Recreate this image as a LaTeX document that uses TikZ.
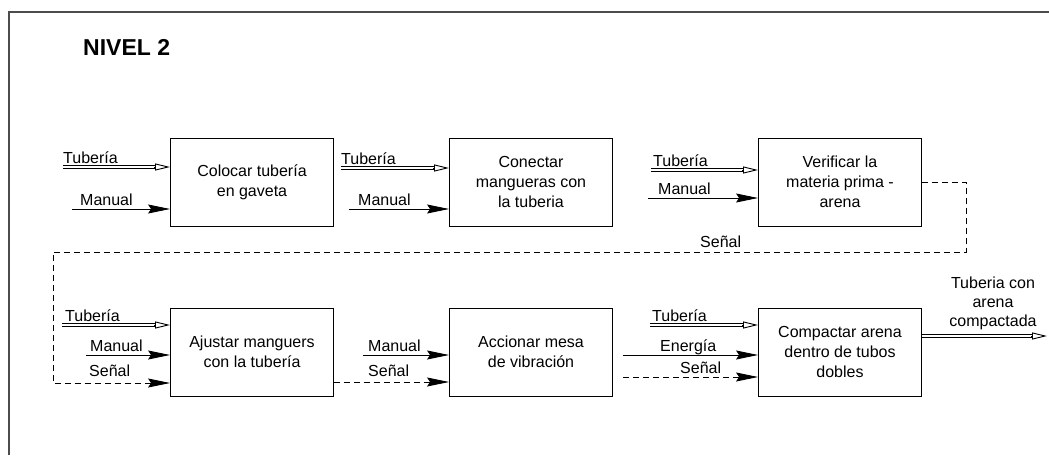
\documentclass[tikz,border=0pt]{standalone}
\usepackage{fontspec}
\setmainfont{Liberation Sans}
\usepackage{tikz}
\usetikzlibrary{arrows.meta}
\newcommand{\boxWidth}[0]{163pt}
\newcommand{\boxHeight}[0]{88pt}
\newcommand{\textSize}[0]{\fontsize{16}{20}\selectfont}

\begin{document}
\begin{tikzpicture}[x=1pt, y=-1pt]
  \tikzset{proc/.style={draw, line width=0.9pt, minimum width=\boxWidth, minimum height=\boxHeight, align=center, font=\textSize, inner sep=2pt},
    tub/.style={line width=4pt, shorten >=14pt, postaction={draw=white, line width=1.8pt, shorten >=14pt}},
    tubtip/.style={line width=0.9pt, -{Triangle[open, length=15pt, width=7pt]}},
    man/.style={line width=0.9pt, -{Stealth[length=22pt, width=9pt, inset=3pt]}},
    sig/.style={man, dash pattern=on 6pt off 4pt},
    lbl/.style={anchor=base west, font=\textSize, inner sep=0pt}}
  \useasboundingbox (0,0) rectangle (1049,455);
  \draw[line width=1.5pt, black!70] (9,455) -- (9,12) -- (1049,12);
  \node (title) [anchor=base west, inner sep=0pt, font=\fontsize{23}{26}\selectfont\bfseries] at (83,55) {NIVEL 2};

  % first row
  \node (b1) [proc] at (252,182) {Colocar tubería\\en gaveta};
  \node (b2) [proc] at (531,182) {Conectar\\mangueras con\\la tuberia};
  \node (b3) [proc] at (840,182) {Verificar la\\materia prima -\\arena};
  % second row
  \node (b4) [proc] at (252,352) {Ajustar manguers\\con la tubería};
  \node (b5) [proc] at (531,352) {Accionar mesa\\de vibración};
  \node (b6) [proc] at (840,352) {Compactar arena\\dentro de tubos\\dobles};

  % inputs b1
  \coordinate (t1) at (63,167);
  \coordinate (m1) at (72,209);
  \draw[tub] (t1) -- (t1 -| b1.west);
  \draw[tubtip] ([xshift=-16pt]t1 -| b1.west) -- (t1 -| b1.west);
  \draw[man] (m1) -- (m1 -| b1.west);
  \node (lt1) [lbl] at (63,163) {Tubería};
  \node (lm1) [lbl] at (80,205) {Manual};
  % inputs b2
  \coordinate (t2) at (341,168);
  \coordinate (m2) at (349,209);
  \draw[tub] (t2) -- (t2 -| b2.west);
  \draw[tubtip] ([xshift=-16pt]t2 -| b2.west) -- (t2 -| b2.west);
  \draw[man] (m2) -- (m2 -| b2.west);
  \node (lt2) [lbl] at (341,164) {Tubería};
  \node (lm2) [lbl] at (358,205) {Manual};
  % inputs b3
  \coordinate (t3) at (651,170);
  \coordinate (m3) at (648,198);
  \draw[tub] (t3) -- (t3 -| b3.west);
  \draw[tubtip] ([xshift=-16pt]t3 -| b3.west) -- (t3 -| b3.west);
  \draw[man] (m3) -- (m3 -| b3.west);
  \node (lt3) [lbl] at (653,166) {Tubería};
  \node (lm3) [lbl] at (658,194) {Manual};

  % feedback from b3 to b4
  \coordinate (c1) at (966,252);
  \coordinate (fb) at (53,383);
  \draw[sig] (b3.east) -| (c1) -| (fb) -- (fb -| b4.west);
  \node (ls3) [lbl] at (700,247) {Señal};

  % inputs b4
  \coordinate (t4) at (62,325);
  \coordinate (m4) at (86,355);
  \draw[tub] (t4) -- (t4 -| b4.west);
  \draw[tubtip] ([xshift=-16pt]t4 -| b4.west) -- (t4 -| b4.west);
  \draw[man] (m4) -- (m4 -| b4.west);
  \node (lt4) [lbl] at (65,321) {Tubería};
  \node (lm4) [lbl] at (90,351) {Manual};
  \node (ls4) [lbl] at (89,376) {Señal};

  % inputs b5
  \coordinate (m5) at (363,355);
  \draw[man] (m5) -- (m5 -| b5.west);
  \draw[sig] ([yshift=-30pt]b4.east) -- ([yshift=-30pt]b5.west);
  \node (lm5) [lbl] at (368,351) {Manual};
  \node (ls5) [lbl] at (368,376) {Señal};

  % inputs b6
  \coordinate (t6) at (650,325);
  \coordinate (e6) at (623,355);
  \coordinate (s6) at (623,377);
  \draw[tub] (t6) -- (t6 -| b6.west);
  \draw[tubtip] ([xshift=-16pt]t6 -| b6.west) -- (t6 -| b6.west);
  \draw[man] (e6) -- (e6 -| b6.west);
  \draw[sig] (s6) -- (s6 -| b6.west);
  \node (lt6) [lbl] at (652,321) {Tubería};
  \node (le6) [lbl] at (660,351) {Energía};
  \node (ls6) [lbl] at (680,373) {Señal};

  % output
  \coordinate (out) at (1047,336);
  \draw[tub] (out -| b6.east) -- (out);
  \draw[tubtip] ([xshift=-16pt]out) -- (out);
  \node (lout) [anchor=south, align=center, font=\fontsize{16}{19}\selectfont, inner sep=0pt] at (993,330) {Tuberia con\\arena\\compactada};
\end{tikzpicture}
\end{document}
